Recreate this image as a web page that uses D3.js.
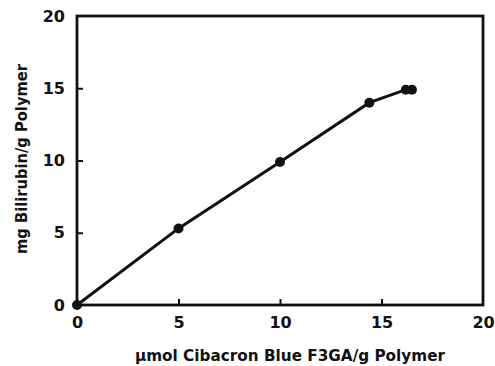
<!DOCTYPE html>
<html>
<head>
<meta charset="utf-8">
<script src="https://cdn.jsdelivr.net/npm/d3@7"></script>
<style>
  body { margin: 0; background: #fff; }
  svg text { font-family: "DejaVu Sans", "Liberation Sans", Arial, sans-serif; font-weight: bold; fill: #111; }
</style>
</head>
<body>
<svg id="chart" width="495" height="366"></svg>
<script>
// data
var xVals = [0, 5, 10, 14.4, 16.2, 16.5];
var yVals = [0, 5.3, 9.9, 14.0, 14.9, 14.9];
var xTicks = [0, 5, 10, 15, 20];
var yTicks = [0, 5, 10, 15, 20];
var xTitle = "\u00b5mol Cibacron Blue F3GA/g Polymer";
var yTitle = "mg Bilirubin/g Polymer";

var svg = d3.select('#chart');
var mLeft = 77, mRight = 483, mTop = 16, mBottom = 305;
var fontFam = '"DejaVu Sans", "Liberation Sans", Arial, sans-serif';

var x = d3.scaleLinear().domain([0, 20]).range([mLeft, mRight]);
var y = d3.scaleLinear().domain([0, 20]).range([mBottom, mTop]);

var pts = xVals.map(function (v, i) { return {x: v, y: yVals[i]}; });

// frame
svg.append('rect')
    .attr('x', mLeft).attr('y', mTop)
    .attr('width', mRight - mLeft).attr('height', mBottom - mTop)
    .attr('fill', 'none').attr('stroke', '#111').attr('stroke-width', 2.8);

// ticks point inward
var xAxis = svg.append('g').attr('transform', 'translate(0,' + mBottom + ')')
    .call(d3.axisBottom(x).tickValues(xTicks).tickSizeInner(-6).tickSizeOuter(0).tickPadding(12));
var yAxis = svg.append('g').attr('transform', 'translate(' + mLeft + ',0)')
    .call(d3.axisLeft(y).tickValues(yTicks).tickSizeInner(-6).tickSizeOuter(0).tickPadding(12));

[xAxis, yAxis].forEach(function (ax) {
    ax.select('.domain').remove();
    ax.selectAll('line').attr('stroke', '#111').attr('stroke-width', 2);
    ax.selectAll('text').attr('font-size', 16).attr('fill', '#111')
        .attr('font-family', fontFam).attr('font-weight', 'bold');
    ax.selectAll('.tick').filter(function (d) { return d === 0 || d === 20; }).select('line').remove();
});

// line
var line = d3.line().x(function (d) { return x(d.x); }).y(function (d) { return y(d.y); });
svg.append('path').datum(pts)
    .attr('d', line)
    .attr('fill', 'none').attr('stroke', '#111').attr('stroke-width', 3);

svg.selectAll('.dot').data(pts).enter().append('circle')
    .attr('class', 'dot')
    .attr('cx', function (d) { return x(d.x); })
    .attr('cy', function (d) { return y(d.y); })
    .attr('r', 5)
    .attr('fill', '#111');

// titles
svg.append('text')
    .attr('x', 290).attr('y', 361)
    .attr('text-anchor', 'middle').attr('font-size', 15)
    .attr('textLength', 310).attr('lengthAdjust', 'spacingAndGlyphs')
    .text(xTitle);

svg.append('text')
    .attr('transform', 'translate(27,159) rotate(-90)')
    .attr('text-anchor', 'middle').attr('font-size', 15)
    .attr('textLength', 190).attr('lengthAdjust', 'spacingAndGlyphs')
    .text(yTitle);
</script>
</body>
</html>
